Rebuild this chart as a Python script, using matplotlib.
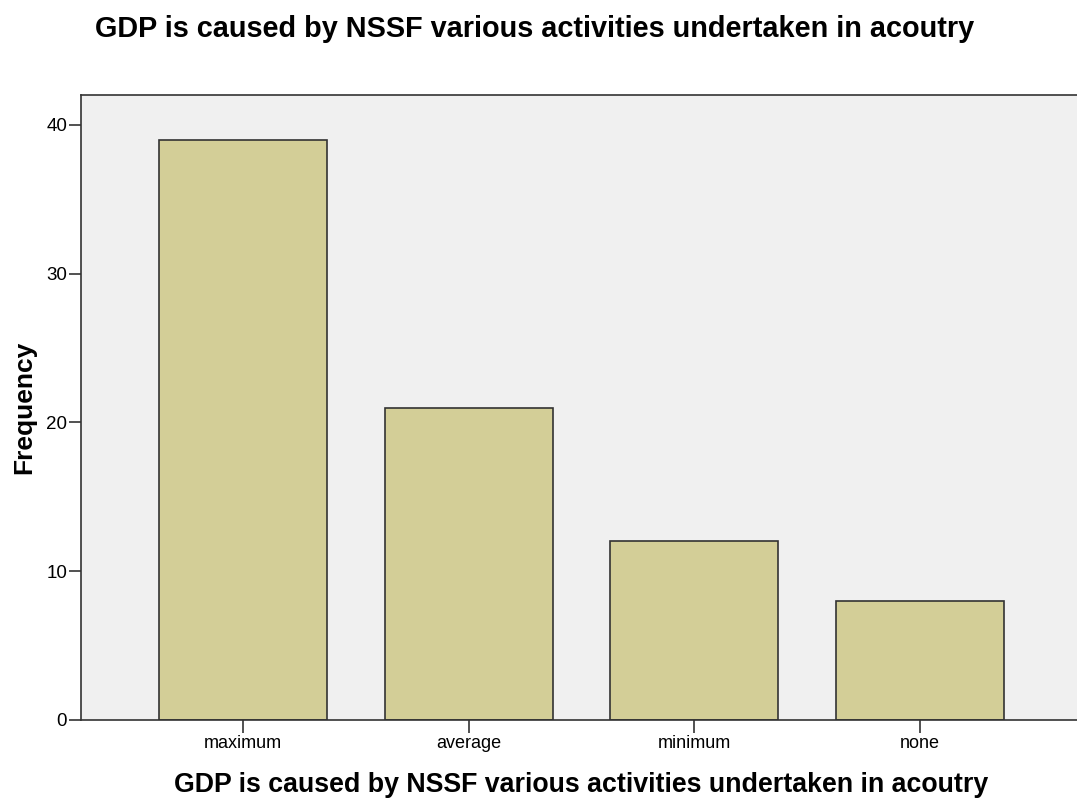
import matplotlib.pyplot as plt

# Data
# -----------------------------
categories = ["maximum", "average", "minimum", "none"]
frequency = [39, 21, 12, 8]
y_ticks = [0, 10, 20, 30, 40]

title = "GDP is caused by NSSF various activities undertaken in acoutry"

# Figure layout (pixels -> figure fraction)
# -----------------------------
W, H = 1077, 802
fig = plt.figure(figsize=(W / 100, H / 100), dpi=100)
plt.rcParams['font.family'] = ['Liberation Sans', 'DejaVu Sans']

left, right, top, bottom = 81, 1082, 95, 720
ax = fig.add_axes([left / W, (H - bottom) / H, (right - left) / W, (bottom - top) / H])
ax.set_facecolor('#F0F0F0')

x = range(len(categories))
ax.bar(x, frequency, width=0.745, color='#D3CE97', edgecolor='#333333', linewidth=1.2, zorder=2)

ax.set_xlim(-0.718, 3.718)
ax.set_ylim(0, 42)
ax.set_xticks(list(x))
ax.set_xticklabels(categories, fontsize=13)
ax.set_yticks(y_ticks)
ax.set_yticklabels([str(v) for v in y_ticks], fontsize=13.5)

ax.tick_params(axis='x', length=9, width=1.2, color='#333333', pad=2)
ax.tick_params(axis='y', length=9, width=1.2, color='#333333', pad=1)

for side in ['left', 'bottom', 'top']:
    ax.spines[side].set_color('#333333')
    ax.spines[side].set_linewidth(1.2)
ax.spines['right'].set_visible(False)

ax.set_xlabel(title, fontsize=19.3, fontweight='bold', va='center')
ax.xaxis.set_label_coords(0.5, -0.104)
ax.set_ylabel("Frequency", fontsize=19, fontweight='bold', va='center', ha='center')
ax.yaxis.set_label_coords(-0.057, 0.5)
fig.text(535 / W, 1 - 29 / H, title, fontsize=20.8, fontweight='bold', ha='center', va='center')

fig.savefig("out.png", dpi=100)
